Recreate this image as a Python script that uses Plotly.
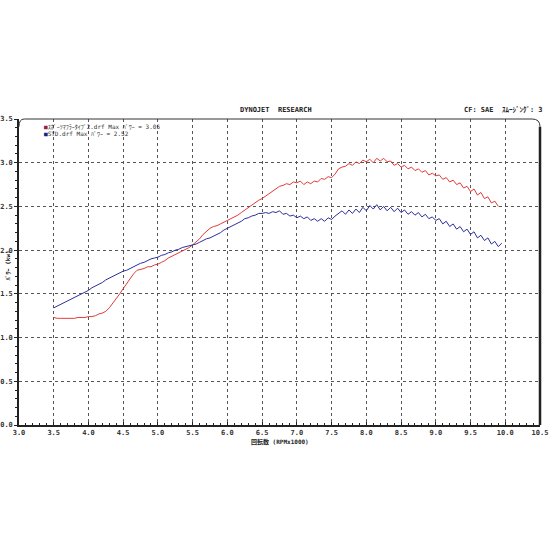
import plotly.graph_objects as go

# ---- data ----
red_name = "ｽﾎﾟｰﾂﾏﾌﾗｰﾀｲﾌﾟ2.drf Max ﾊﾟﾜｰ = 3.05"
blue_name = "STD.drf Max ﾊﾟﾜｰ = 2.52"

red_rpm = [round(3.5 + 0.05 * i, 2) for i in range(129)]
red_power = [
    1.23, 1.22, 1.22, 1.22, 1.22, 1.22, 1.22, 1.23, 1.23, 1.23,
    1.24, 1.24, 1.25, 1.27, 1.28, 1.30, 1.34, 1.39, 1.44, 1.50,
    1.56, 1.62, 1.68, 1.73, 1.77, 1.78, 1.79, 1.81, 1.81, 1.83,
    1.84, 1.86, 1.88, 1.91, 1.93, 1.95, 1.97, 1.99, 2.01, 2.03,
    2.06, 2.09, 2.13, 2.18, 2.22, 2.25, 2.27, 2.28, 2.30, 2.32,
    2.34, 2.36, 2.38, 2.40, 2.43, 2.46, 2.49, 2.51, 2.54, 2.57,
    2.59, 2.62, 2.65, 2.68, 2.70, 2.73, 2.74, 2.76, 2.75, 2.78,
    2.77, 2.79, 2.75, 2.78, 2.76, 2.79, 2.78, 2.82, 2.81, 2.84,
    2.83, 2.87, 2.93, 2.95, 2.96, 2.99, 2.97, 3.01, 2.99, 3.03,
    3.01, 3.04, 3.00, 3.05, 3.02, 3.05, 3.01, 3.02, 2.97, 2.99,
    2.95, 2.97, 2.93, 2.95, 2.91, 2.93, 2.89, 2.91, 2.86, 2.88,
    2.85, 2.86, 2.81, 2.83, 2.78, 2.80, 2.75, 2.77, 2.71, 2.73,
    2.67, 2.70, 2.63, 2.66, 2.59, 2.61, 2.54, 2.56, 2.50,
]

blue_rpm = [round(3.5 + 0.05 * i, 2) for i in range(130)]
blue_power = [
    1.34, 1.36, 1.38, 1.40, 1.42, 1.44, 1.46, 1.48, 1.50, 1.52,
    1.54, 1.57, 1.59, 1.61, 1.63, 1.66, 1.68, 1.70, 1.72, 1.74,
    1.76, 1.77, 1.79, 1.81, 1.83, 1.85, 1.86, 1.88, 1.90, 1.91,
    1.92, 1.94, 1.95, 1.97, 1.98, 2.00, 2.01, 2.03, 2.04, 2.05,
    2.06, 2.07, 2.09, 2.11, 2.13, 2.14, 2.16, 2.18, 2.20, 2.23,
    2.25, 2.27, 2.29, 2.31, 2.33, 2.36, 2.37, 2.39, 2.40, 2.42,
    2.42, 2.43, 2.42, 2.44, 2.43, 2.45, 2.41, 2.42, 2.39, 2.40,
    2.37, 2.39, 2.36, 2.38, 2.34, 2.36, 2.33, 2.36, 2.33, 2.37,
    2.35, 2.39, 2.42, 2.45, 2.41, 2.46, 2.42, 2.47, 2.43, 2.49,
    2.45, 2.51, 2.47, 2.52, 2.46, 2.50, 2.45, 2.49, 2.44, 2.48,
    2.43, 2.46, 2.41, 2.44, 2.40, 2.43, 2.38, 2.41, 2.36, 2.38,
    2.34, 2.36, 2.30, 2.33, 2.27, 2.30, 2.24, 2.27, 2.21, 2.24,
    2.18, 2.21, 2.14, 2.17, 2.11, 2.14, 2.07, 2.10, 2.04, 2.08,
]

x_ticks = [3.0, 3.5, 4.0, 4.5, 5.0, 5.5, 6.0, 6.5, 7.0, 7.5, 8.0, 8.5, 9.0, 9.5, 10.0, 10.5]
y_ticks = [0.0, 0.5, 1.0, 1.5, 2.0, 2.5, 3.0, 3.5]

RED = "#e23b3b"
BLUE = "#2b2f9c"
FONT = "DejaVu Sans Mono, Noto Sans CJK JP, monospace"

fig = go.Figure()
fig.add_trace(go.Scatter(x=red_rpm, y=red_power, mode="lines", name=red_name,
                         line=dict(color=RED, width=1), hoverinfo="x+y"))
fig.add_trace(go.Scatter(x=blue_rpm, y=blue_power, mode="lines", name=blue_name,
                         line=dict(color=BLUE, width=1), hoverinfo="x+y"))

axis_common = dict(
    showgrid=True, gridcolor="#555555", griddash="dot", gridwidth=1,
    showline=True, linecolor="#222222", linewidth=1.5,
    tickcolor="#222222",
    tickfont=dict(family=FONT, size=7, color="#333333", weight="bold"),
    zeroline=False,
)

fig.update_xaxes(range=[3.0, 10.5], tickvals=x_ticks,
                 ticktext=[f"{v:.1f}" for v in x_ticks],
                 ticks="inside", ticklen=3,
                 minor=dict(dtick=0.1, ticks="inside", ticklen=2, tickcolor="#222222", showgrid=False),
                 **axis_common)
fig.update_yaxes(range=[0, 3.5], tickvals=y_ticks,
                 ticktext=[f"{v:.1f}" for v in y_ticks],
                 ticks="outside", ticklen=3,
                 minor=dict(dtick=0.1, ticks="outside", ticklen=2, tickcolor="#222222", showgrid=False),
                 **axis_common)

fig.update_layout(
    width=550, height=550,
    margin=dict(l=19, r=10, t=119, b=125, autoexpand=False),
    paper_bgcolor="white", plot_bgcolor="white",
    showlegend=False,
    font=dict(family=FONT, size=7, color="#333333"),
    shapes=[
        dict(type="path", xref="paper", yref="paper",
             path="M 0,0.975 Q 0,1 0.01,1 L 0.985,1 Q 1,1 1,0.975",
             line=dict(color="#333333", width=1)),
        dict(type="line", xref="paper", yref="paper", x0=1, x1=1, y0=0, y1=0.975,
             line=dict(color="#222222", width=2.5)),
    ],
    annotations=[
        dict(text="<b>DYNOJET  RESEARCH</b>", xref="paper", yref="paper",
             x=0.493, y=1.01, xanchor="center", yanchor="bottom", showarrow=False,
             font=dict(family=FONT, size=7, color="#222222")),
        dict(text="<b>CF: SAE  ｽﾑｰｼﾞﾝｸﾞ: 3</b>", xref="paper", yref="paper",
             x=1.01, y=1.01, xanchor="right", yanchor="bottom", showarrow=False,
             font=dict(family=FONT, size=7, color="#222222")),
        dict(text=f"<span style='color:#a02040'>■</span>{red_name}", xref="paper", yref="paper",
             x=0.045, y=0.975, xanchor="left", yanchor="middle", showarrow=False,
             font=dict(family=FONT, size=6, color="#333333")),
        dict(text=f"<span style='color:#202080'>■</span>{blue_name}", xref="paper", yref="paper",
             x=0.045, y=0.953, xanchor="left", yanchor="middle", showarrow=False,
             font=dict(family=FONT, size=6, color="#333333")),
        dict(text="<b>ﾊﾟﾜｰ (kw)</b>", xref="paper", yref="paper", textangle=-90,
             x=-0.022, y=0.52, xanchor="center", yanchor="middle", showarrow=False,
             font=dict(family=FONT, size=6, color="#222222")),
        dict(text="<b>回転数 (RPMx1000)</b>", xref="paper", yref="paper",
             x=0.5, y=-0.057, xanchor="center", yanchor="middle", showarrow=False,
             font=dict(family=FONT, size=6, color="#222222")),
    ],
)

fig.write_html("out.html", config={"displayModeBar": False},
               post_script="document.body.style.margin='0';document.body.style.padding='0';")
